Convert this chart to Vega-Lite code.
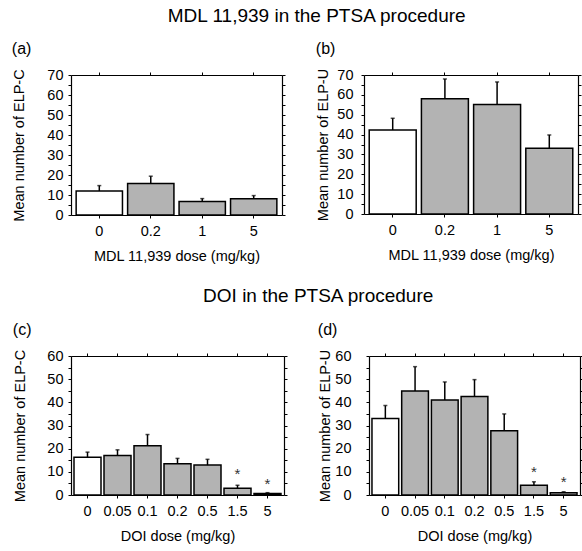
{
  "$schema": "https://vega.github.io/schema/vega-lite/v6.json",
  "padding": {"left": 11, "top": 7, "right": 0, "bottom": 4},
  "background": "white",
  "config": {
    "font": "Liberation Sans",
    "view": {"stroke": null},
    "axis": {"grid": false, "domainColor": "black", "tickColor": "black", "labelColor": "black", "titleColor": "black", "labelFontSize": 14.5, "titleFontSize": 14.5, "titleFontWeight": "normal", "tickSize": 3, "domainWidth": 1.2, "tickWidth": 1},
    "title": {"fontWeight": "normal", "color": "black"}
  },
  "datasets": {
    "a": [
      {"dose": "0", "group": "control", "mean": 12.0, "upper": 14.7},
      {"dose": "0.2", "group": "drug", "mean": 15.7, "upper": 19.4},
      {"dose": "1", "group": "drug", "mean": 6.7, "upper": 8.2},
      {"dose": "5", "group": "drug", "mean": 8.1, "upper": 9.7}
    ],
    "b": [
      {"dose": "0", "group": "control", "mean": 42.3, "upper": 48.2},
      {"dose": "0.2", "group": "drug", "mean": 58.0, "upper": 68.0},
      {"dose": "1", "group": "drug", "mean": 55.2, "upper": 66.5},
      {"dose": "5", "group": "drug", "mean": 33.1, "upper": 39.8}
    ],
    "c": [
      {"dose": "0", "group": "control", "mean": 16.3, "upper": 18.5},
      {"dose": "0.05", "group": "drug", "mean": 17.0, "upper": 19.5},
      {"dose": "0.1", "group": "drug", "mean": 21.3, "upper": 26.1},
      {"dose": "0.2", "group": "drug", "mean": 13.5, "upper": 15.8},
      {"dose": "0.5", "group": "drug", "mean": 12.9, "upper": 15.4},
      {"dose": "1.5", "group": "drug", "mean": 2.9, "upper": 4.2, "star": 11},
      {"dose": "5", "group": "drug", "mean": 0.7, "upper": 1.0, "star": 6.4}
    ],
    "d": [
      {"dose": "0", "group": "control", "mean": 33.0, "upper": 38.6},
      {"dose": "0.05", "group": "drug", "mean": 44.9, "upper": 55.4},
      {"dose": "0.1", "group": "drug", "mean": 41.0, "upper": 48.8},
      {"dose": "0.2", "group": "drug", "mean": 42.5, "upper": 49.8},
      {"dose": "0.5", "group": "drug", "mean": 27.7, "upper": 35.0},
      {"dose": "1.5", "group": "drug", "mean": 4.2, "upper": 5.7, "star": 11.5},
      {"dose": "5", "group": "drug", "mean": 1.0, "upper": 1.4, "star": 7.5}
    ]
  },
  "spacing": 24,
  "vconcat": [
    {
      "title": {"text": "MDL 11,939 in the PTSA procedure", "fontSize": 19, "anchor": "middle", "offset": 15, "dx": 20},
      "spacing": 29,
      "hconcat": [
        {
          "title": {"text": "(a)", "anchor": "start", "frame": "bounds", "fontSize": 16, "offset": 10},
          "width": 211, "height": 140,
          "data": {"name": "a"},
          "layer": [
            {"mark": {"type": "bar", "stroke": "black", "strokeWidth": 1.5},
             "encoding": {
               "x": {"field": "dose", "type": "ordinal", "sort": null, "scale": {"paddingInner": 0.1, "paddingOuter": 0.1}, "axis": {"title": "MDL 11,939 dose (mg/kg)", "labelAngle": 0, "labelPadding": 6, "titlePadding": 12}},
               "y": {"field": "mean", "type": "quantitative", "scale": {"domain": [0, 70]}, "axis": {"title": "Mean number of ELP-C", "values": [0,5,10,15,20,25,30,35,40,45,50,55,60,65,70], "labelExpr": "datum.value % 10 == 0 ? datum.label : ''", "labelPadding": 5, "titlePadding": 20}},
               "fill": {"field": "group", "type": "nominal", "scale": {"domain": ["control", "drug"], "range": ["white", "#b3b3b3"]}, "legend": null}
             }},
            {"mark": {"type": "rule", "strokeWidth": 1.5, "color": "black"},
             "encoding": {
               "x": {"field": "dose", "type": "ordinal", "sort": null, "axis": {"orient": "top", "labels": false, "title": null}},
               "y": {"field": "mean", "type": "quantitative", "axis": {"orient": "right", "labels": false, "title": null, "values": [0,5,10,15,20,25,30,35,40,45,50,55,60,65,70]}},
               "y2": {"field": "upper"}
             }},
            {"mark": {"type": "tick", "orient": "horizontal", "size": 4, "thickness": 1.5, "color": "black"},
             "encoding": {
               "x": {"field": "dose", "type": "ordinal", "sort": null, "axis": null},
               "y": {"field": "upper", "type": "quantitative", "axis": null}
             }}
          ],
          "resolve": {"axis": {"x": "independent", "y": "independent"}}
        },
        {
          "title": {"text": "(b)", "anchor": "start", "frame": "bounds", "fontSize": 16, "offset": 10},
          "width": 214, "height": 139,
          "data": {"name": "b"},
          "layer": [
            {"mark": {"type": "bar", "stroke": "black", "strokeWidth": 1.5},
             "encoding": {
               "x": {"field": "dose", "type": "ordinal", "sort": null, "scale": {"paddingInner": 0.1, "paddingOuter": 0.1}, "axis": {"title": "MDL 11,939 dose (mg/kg)", "labelAngle": 0, "labelPadding": 6, "titlePadding": 12}},
               "y": {"field": "mean", "type": "quantitative", "scale": {"domain": [0, 70]}, "axis": {"title": "Mean number of ELP-U", "values": [0,5,10,15,20,25,30,35,40,45,50,55,60,65,70], "labelExpr": "datum.value % 10 == 0 ? datum.label : ''", "labelPadding": 8, "titlePadding": 6}},
               "fill": {"field": "group", "type": "nominal", "scale": {"domain": ["control", "drug"], "range": ["white", "#b3b3b3"]}, "legend": null}
             }},
            {"mark": {"type": "rule", "strokeWidth": 1.5, "color": "black"},
             "encoding": {
               "x": {"field": "dose", "type": "ordinal", "sort": null, "axis": {"orient": "top", "labels": false, "title": null}},
               "y": {"field": "mean", "type": "quantitative", "axis": {"orient": "right", "labels": false, "title": null, "values": [0,5,10,15,20,25,30,35,40,45,50,55,60,65,70]}},
               "y2": {"field": "upper"}
             }},
            {"mark": {"type": "tick", "orient": "horizontal", "size": 4, "thickness": 1.5, "color": "black"},
             "encoding": {
               "x": {"field": "dose", "type": "ordinal", "sort": null, "axis": null},
               "y": {"field": "upper", "type": "quantitative", "axis": null}
             }}
          ],
          "resolve": {"axis": {"x": "independent", "y": "independent"}}
        }
      ]
    },
    {
      "title": {"text": "DOI in the PTSA procedure", "fontSize": 19, "anchor": "middle", "offset": 16, "dx": 20},
      "spacing": 29,
      "hconcat": [
        {
          "title": {"text": "(c)", "anchor": "start", "frame": "bounds", "fontSize": 16, "offset": 10},
          "width": 213, "height": 139,
          "data": {"name": "c"},
          "layer": [
            {"mark": {"type": "bar", "stroke": "black", "strokeWidth": 1.5},
             "encoding": {
               "x": {"field": "dose", "type": "ordinal", "sort": null, "scale": {"paddingInner": 0.1, "paddingOuter": 0.1}, "axis": {"title": "DOI dose (mg/kg)", "labelAngle": 0, "labelPadding": 6, "titlePadding": 12}},
               "y": {"field": "mean", "type": "quantitative", "scale": {"domain": [0, 60]}, "axis": {"title": "Mean number of ELP-C", "values": [0,5,10,15,20,25,30,35,40,45,50,55,60], "labelExpr": "datum.value % 10 == 0 ? datum.label : ''", "labelPadding": 5, "titlePadding": 19}},
               "fill": {"field": "group", "type": "nominal", "scale": {"domain": ["control", "drug"], "range": ["white", "#b3b3b3"]}, "legend": null}
             }},
            {"mark": {"type": "rule", "strokeWidth": 1.5, "color": "black"},
             "encoding": {
               "x": {"field": "dose", "type": "ordinal", "sort": null, "axis": {"orient": "top", "labels": false, "title": null}},
               "y": {"field": "mean", "type": "quantitative", "axis": {"orient": "right", "labels": false, "title": null, "values": [0,5,10,15,20,25,30,35,40,45,50,55,60]}},
               "y2": {"field": "upper"}
             }},
            {"mark": {"type": "tick", "orient": "horizontal", "size": 4, "thickness": 1.5, "color": "black"},
             "encoding": {
               "x": {"field": "dose", "type": "ordinal", "sort": null, "axis": null},
               "y": {"field": "upper", "type": "quantitative", "axis": null}
             }},
            {"transform": [{"filter": {"field": "star", "valid": true}}],
             "mark": {"type": "text", "text": "*", "fontSize": 15, "baseline": "middle", "dy": 4, "color": "#333"},
             "encoding": {
               "x": {"field": "dose", "type": "ordinal", "sort": null, "axis": null},
               "y": {"field": "star", "type": "quantitative", "axis": null}
             }}
          ],
          "resolve": {"axis": {"x": "independent", "y": "independent"}}
        },
        {
          "title": {"text": "(d)", "anchor": "start", "frame": "bounds", "fontSize": 16, "offset": 10},
          "width": 211, "height": 139,
          "data": {"name": "d"},
          "layer": [
            {"mark": {"type": "bar", "stroke": "black", "strokeWidth": 1.5},
             "encoding": {
               "x": {"field": "dose", "type": "ordinal", "sort": null, "scale": {"paddingInner": 0.1, "paddingOuter": 0.1}, "axis": {"title": "DOI dose (mg/kg)", "labelAngle": 0, "labelPadding": 6, "titlePadding": 12}},
               "y": {"field": "mean", "type": "quantitative", "scale": {"domain": [0, 60]}, "axis": {"title": "Mean number of ELP-U", "values": [0,5,10,15,20,25,30,35,40,45,50,55,60], "labelExpr": "datum.value % 10 == 0 ? datum.label : ''", "labelPadding": 15, "titlePadding": 2}},
               "fill": {"field": "group", "type": "nominal", "scale": {"domain": ["control", "drug"], "range": ["white", "#b3b3b3"]}, "legend": null}
             }},
            {"mark": {"type": "rule", "strokeWidth": 1.5, "color": "black"},
             "encoding": {
               "x": {"field": "dose", "type": "ordinal", "sort": null, "axis": {"orient": "top", "labels": false, "title": null}},
               "y": {"field": "mean", "type": "quantitative", "axis": {"orient": "right", "labels": false, "title": null, "values": [0,5,10,15,20,25,30,35,40,45,50,55,60]}},
               "y2": {"field": "upper"}
             }},
            {"mark": {"type": "tick", "orient": "horizontal", "size": 4, "thickness": 1.5, "color": "black"},
             "encoding": {
               "x": {"field": "dose", "type": "ordinal", "sort": null, "axis": null},
               "y": {"field": "upper", "type": "quantitative", "axis": null}
             }},
            {"transform": [{"filter": {"field": "star", "valid": true}}],
             "mark": {"type": "text", "text": "*", "fontSize": 15, "baseline": "middle", "dy": 4, "color": "#333"},
             "encoding": {
               "x": {"field": "dose", "type": "ordinal", "sort": null, "axis": null},
               "y": {"field": "star", "type": "quantitative", "axis": null}
             }}
          ],
          "resolve": {"axis": {"x": "independent", "y": "independent"}}
        }
      ]
    }
  ]
}
